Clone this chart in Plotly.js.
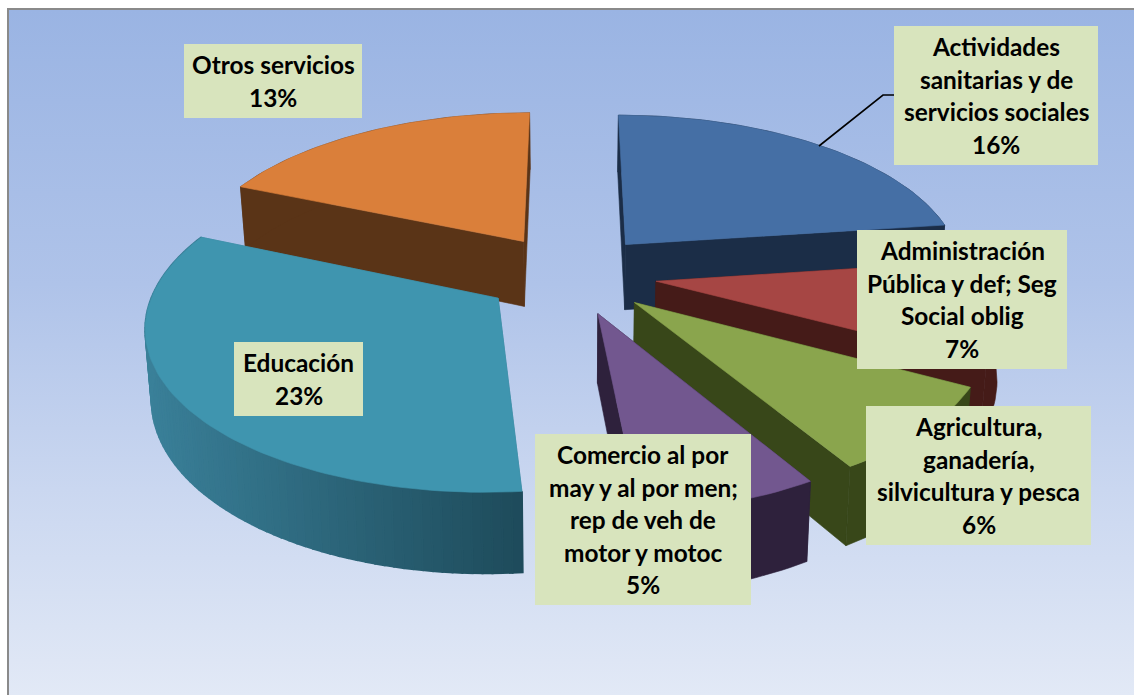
<!DOCTYPE html>
<html><head><meta charset="utf-8">
<script src="https://cdn.plot.ly/plotly-3.0.1.min.js"></script>
<style>
html,body{margin:0;padding:0;background:#fff;width:1134px;height:695px;overflow:hidden}
#frame{position:absolute;left:7px;top:8px;width:1127px;height:687px;box-sizing:border-box;border-left:2px solid #8a8a8a;border-top:2px solid #8a8a8a;background:linear-gradient(180deg,#9ab4e3 0%,#afc3e9 40%,#cad7f0 70%,#e2e9f6 100%)}
#chart{position:absolute;left:0;top:0;width:1134px;height:695px}
</style></head><body>
<div id="frame"></div><div id="chart"></div>
<script>
var categories = ["Actividades sanitarias y de servicios sociales","Administración Pública y def; Seg Social oblig","Agricultura, ganadería, silvicultura y pesca","Comercio al por may y al por men; rep de veh de motor y motoc","Educación","Otros servicios"];
var values = [16,7,6,5,23,13];
var labelLines = [
 ["Actividades","sanitarias y de","servicios sociales"],
 ["Administración","Pública y def; Seg","Social oblig"],
 ["Agricultura,","ganadería,","silvicultura y pesca"],
 ["Comercio al por","may y al por men;","rep de veh de","motor y motoc"],
 ["Educación"],
 ["Otros servicios"]];
var topColors  = ["#456FA5","#A64644","#8AA54D","#72578F","#3F95AF","#DA7F3A"];
var sideColors = ["#1B2D47","#451B18","#384719","#2E213C","#3A8099","#5A3417"];
var labelBoxes = [[894,1098,26,165],[857,1067,230,369],[866,1091,406,545],[535,751,434,605],[234,363,342,416],[184,362,44,118]];
var leaderX=[819,883,894], leaderY=[146,95,95];
var drawOrder=[5,0,1,2,3,4];

var P={cx:570,cy:274,A:339,B:157,k:0.15,h:67,zs:0.015,ex:0.256};
function proj(X,Y,Z){var s=1/(1+P.k*Y);return [P.cx+P.A*X*s*(1-Z*P.zs),P.cy-P.B*Y*s+Z*P.h*s];}
var total=values.reduce(function(a,b){return a+b},0),cum=0,slices=values.map(function(v){var a0=cum/total*2*Math.PI;cum+=v;return {a0:a0,a1:cum/total*2*Math.PI};});
function poly(name,pts,color,w){return {type:'scatter',mode:'lines',name:name,x:pts.map(function(p){return p[0]}).concat([pts[0][0]]),y:pts.map(function(p){return p[1]}).concat([pts[0][1]]),fill:'toself',fillcolor:color,line:{color:color,width:w||0.6},hoverinfo:'skip',showlegend:false};}
function lerpCol(t){var a=[0x3A,0x80,0x99],b=[0x1E,0x4B,0x5B];return 'rgb('+a.map(function(c,i){return Math.round(c+(b[i]-c)*t)}).join(',')+')';}
var traces=[];
drawOrder.forEach(function(i){
  var sl=slices[i],mid=(sl.a0+sl.a1)/2,ox=P.ex*Math.sin(mid),oy=P.ex*Math.cos(mid),n=Math.max(12,Math.round((sl.a1-sl.a0)*40)),arc=[];
  for(var j=0;j<=n;j++){var a=sl.a0+(sl.a1-sl.a0)*j/n;arc.push([ox+Math.sin(a),oy+Math.cos(a)]);}
  var ap=[ox,oy],nm=categories[i];
  function wall(pts){return pts.map(function(p){return proj(p[0],p[1],0)}).concat(pts.slice().reverse().map(function(p){return proj(p[0],p[1],1)}));}
  traces.push(poly(nm,wall([ap,arc[0]]),sideColors[i]));
  traces.push(poly(nm,wall([ap,arc[n]]),sideColors[i]));
  if(i===4){
    for(var j=0;j<n;j++){var t=(proj(arc[j][0],arc[j][1],0)[0]-145)/(525-145);traces.push(poly(nm,wall([arc[j],arc[j+1]]),lerpCol(Math.max(0,Math.min(1,t))),2));}
  } else traces.push(poly(nm,wall(arc),sideColors[i]));
  traces.push(poly(nm,[ap].concat(arc).map(function(p){return proj(p[0],p[1],0)}),topColors[i]));
});
traces.push({type:'scatter',mode:'lines',x:leaderX,y:leaderY,line:{color:'#000',width:1.6},hoverinfo:'skip',showlegend:false,name:'leader'});

var shapes=labelBoxes.map(function(b){return {type:'rect',xref:'x',yref:'y',x0:b[0],x1:b[1],y0:b[2],y1:b[3],fillcolor:'#D8E4BD',line:{width:0},layer:'above'};});
var ann=[];
labelBoxes.forEach(function(b,i){
  var lines=labelLines[i].concat([Math.round(values[i])+'%']),pitch=32.5,xc=(b[0]+b[1])/2,yc=(b[2]+b[3])/2;
  lines.forEach(function(t,j){ann.push({xref:'x',yref:'y',x:xc,y:yc+(j-(lines.length-1)/2)*pitch,text:'<b>'+t+'</b>',showarrow:false,font:{family:'Lato, sans-serif',size:24.4,color:'#000'},xanchor:'center',yanchor:'middle'});});
});
Plotly.newPlot('chart',traces,{
  width:1134,height:695,margin:{l:0,r:0,t:0,b:0},paper_bgcolor:'rgba(0,0,0,0)',plot_bgcolor:'rgba(0,0,0,0)',
  xaxis:{range:[0,1134],visible:false,fixedrange:true},yaxis:{range:[695,0],visible:false,fixedrange:true},
  shapes:shapes,annotations:ann,showlegend:false,hovermode:false
},{displayModeBar:false,staticPlot:true});
</script></body></html>
